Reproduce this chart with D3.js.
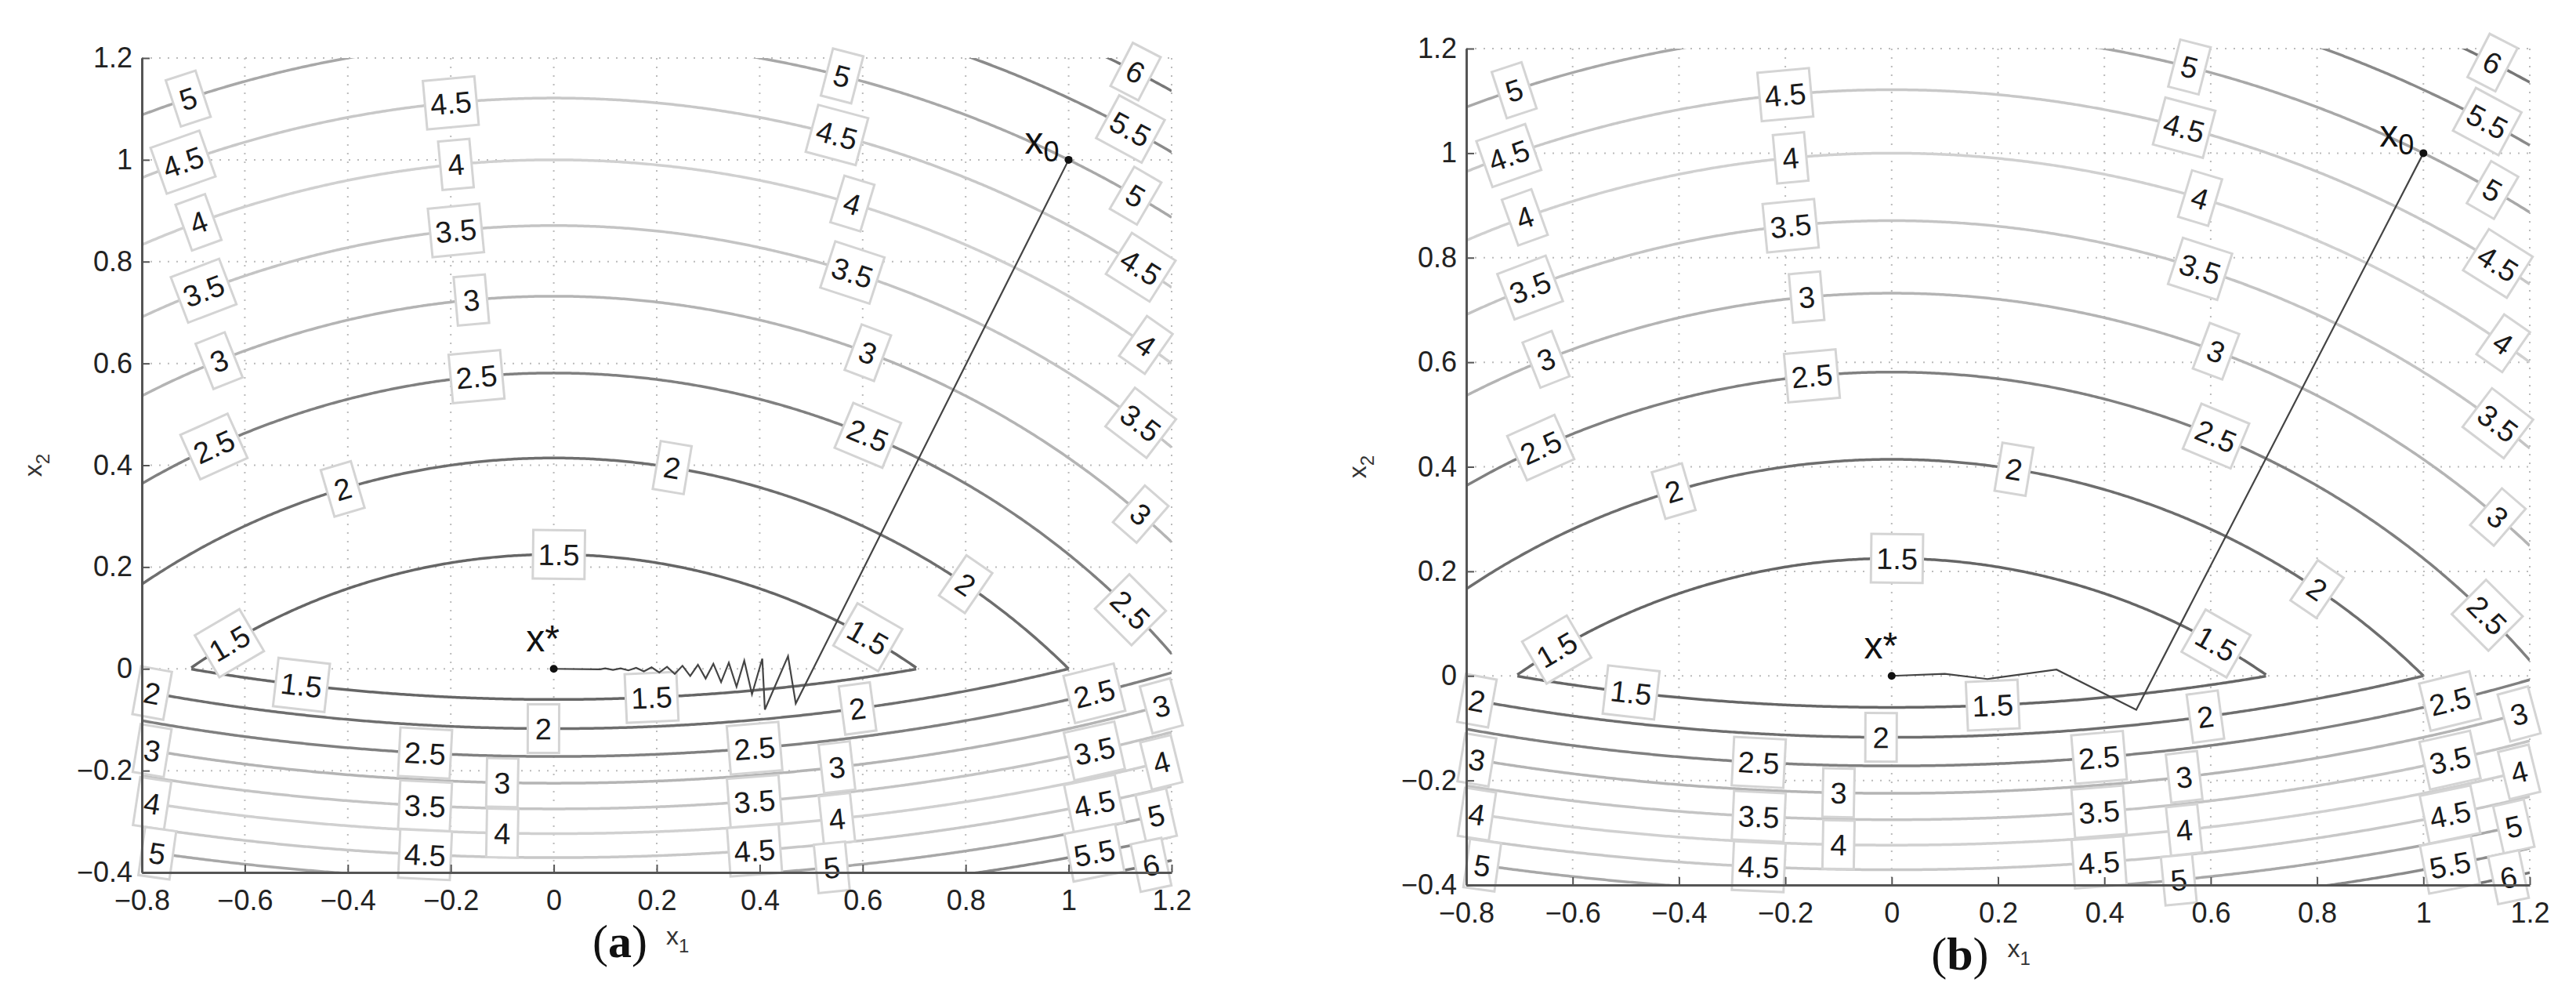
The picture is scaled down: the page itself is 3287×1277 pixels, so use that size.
<!DOCTYPE html>
<html><head><meta charset="utf-8">
<script src="https://cdn.jsdelivr.net/npm/d3@7/dist/d3.min.js"></script>
<style>body{margin:0;background:#fff}</style>
</head><body>
<svg id="c" width="3287" height="1277"></svg>
<script>
// contour levels and their line greys
const levels = [1.5, 2, 2.5, 3, 3.5, 4, 4.5, 5, 5.5, 6];
const levelColors = ["#666", "#6e6e6e", "#808080", "#b4b4b4", "#c4c4c4", "#d0d0d0", "#c8c8c8", "#a8a8a8", "#8a8a8a", "#777"];
// field parameters: upper half f = x1^2 + (x2+1)^2 ; lower half f = x1^2 + 1 + A t + B t^2, t=-x2
const lowerA = 8.08, lowerB = 3.66;
const xTicks = [-0.8, -0.6, -0.4, -0.2, 0, 0.2, 0.4, 0.6, 0.8, 1, 1.2];
const yTicks = [-0.4, -0.2, 0, 0.2, 0.4, 0.6, 0.8, 1, 1.2];
// label placements: [level, x1]
const upperLabels = [[5,-0.71],[4.5,-0.72],[4,-0.69],[3.5,-0.68],[3,-0.65],[2.5,-0.66],[2,-0.41],[1.5,-0.63],
  [4.5,-0.2],[4,-0.19],[3.5,-0.19],[3,-0.16],[2.5,-0.15],[2,0.23],[1.5,0.01],
  [5,0.56],[4.5,0.55],[4,0.58],[3.5,0.58],[3,0.61],[2.5,0.61],[2,0.8],[1.5,0.61],
  [6,1.13],[5.5,1.12],[5,1.13],[4.5,1.14],[4,1.15],[3.5,1.14],[3,1.14],[2.5,1.12]];
const lowerLabels = [[1.5,-0.49],[1.5,0.19],[2,-0.78],[2,-0.02],[2,0.59],[2.5,-0.25],[2.5,0.39],[2.5,1.05],
  [3,-0.78],[3,-0.1],[3,0.55],[3,1.18],[3.5,-0.25],[3.5,0.39],[3.5,1.05],[4,-0.78],[4,-0.1],[4,0.55],[4,1.18],
  [4.5,-0.25],[4.5,0.39],[4.5,1.05],[5,-0.77],[5,0.54],[5,1.17],[5.5,1.05],[6,1.16]];
// iterate paths
const pathA = [[1,1],[0.47,-0.068],[0.455,0.025],[0.41,-0.08],[0.405,0.02],[0.385,-0.05],[0.37,0.016],[0.355,-0.035],
  [0.34,0.012],[0.325,-0.026],[0.31,0.01],[0.295,-0.019],[0.28,0.008],[0.265,-0.014],[0.25,0.006],[0.235,-0.01],
  [0.22,0.004],[0.205,-0.007],[0.19,0.003],[0.175,-0.005],[0.16,0.002],[0.145,-0.003],[0.13,0.001],[0.115,-0.002],
  [0.1,0.001],[0.09,-0.001],[0,0]];
const pathB = [[1,1],[0.46,-0.065],[0.31,0.012],[0.18,-0.006],[0.1,0.004],[0,0]];

const svg = d3.select("#c");
const upperX2 = (c, x1) => { const r = c - x1*x1; return r < 0 ? NaN : Math.sqrt(r) - 1; };
const lowerX2 = (c, x1) => { const r = c - 1 - x1*x1; if (r < 0) return NaN;
  return -(-lowerA + Math.sqrt(lowerA*lowerA + 4*lowerB*r)) / (2*lowerB); };

function panel(L, R, T, B, path, cap) {
  const x = d3.scaleLinear().domain([-0.8, 1.2]).range([L, R]);
  const y = d3.scaleLinear().domain([-0.4, 1.2]).range([B, T]);
  const g = svg.append("g");
  g.selectAll(".gx").data(xTicks).join("line").attr("x1", d=>x(d)).attr("x2", d=>x(d)).attr("y1", T).attr("y2", B)
    .attr("stroke", "#bbb").attr("stroke-width", 2).attr("stroke-dasharray", "2,9");
  g.selectAll(".gy").data(yTicks).join("line").attr("y1", d=>y(d)).attr("y2", d=>y(d)).attr("x1", L).attr("x2", R)
    .attr("stroke", "#bbb").attr("stroke-width", 2).attr("stroke-dasharray", "2,9");
  g.append("clipPath").attr("id", "cp" + cap).append("rect").attr("x", L).attr("y", T).attr("width", R-L).attr("height", B-T);
  const cg = g.append("g").attr("clip-path", `url(#cp${cap})`);
  const xs = d3.range(-0.8, 1.2001, 0.004);
  const line = d3.line().defined(d => !isNaN(d[1])).x(d => x(d[0])).y(d => y(d[1]));
  levels.forEach((c, i) => {
    const up = xs.map(v => { const w = upperX2(c, v); return [v, (w >= 0 && w <= 1.25) ? w : NaN]; });
    const lo = xs.map(v => { const w = lowerX2(c, v); return [v, (w <= 0 && w >= -0.45) ? w : NaN]; });
    [up, lo].forEach(pts => cg.append("path").attr("d", line(pts)).attr("fill", "none")
      .attr("stroke", levelColors[i]).attr("stroke-width", 3.5));
  });
  function addLabel(c, x1, fn) {
    const w = fn(c, x1); if (isNaN(w)) return;
    const px = x(x1), py = y(w);
    const px2 = x(x1 + 0.01), py2 = y(fn(c, x1 + 0.01));
    let a = Math.atan2(py2 - py, px2 - px) * 180 / Math.PI;
    if (isNaN(a)) a = 0;
    if (a > 90) a -= 180; if (a < -90) a += 180;
    const t = String(c);
    const lg = g.append("g").attr("transform", `translate(${px},${py}) rotate(${a})`);
    const bw = t.length > 1 ? 66 : 40;
    lg.append("rect").attr("x", -bw/2).attr("y", -31).attr("width", bw).attr("height", 62)
      .attr("fill", "#fff").attr("stroke", "#d4d4d4").attr("stroke-width", 3);
    lg.append("text").attr("text-anchor", "middle").attr("dy", "0.36em").attr("font-family", "Liberation Sans, Arial")
      .attr("font-size", 38).attr("fill", "#1a1a1a").text(t);
  }
  upperLabels.forEach(([c, v]) => addLabel(c, v, upperX2));
  lowerLabels.forEach(([c, v]) => addLabel(c, v, lowerX2));
  g.append("path").attr("d", d3.line().x(d=>x(d[0])).y(d=>y(d[1]))(path)).attr("fill", "none")
    .attr("stroke", "#444").attr("stroke-width", 2.2);
  [path[0], path[path.length-1]].forEach(p => g.append("circle").attr("cx", x(p[0])).attr("cy", y(p[1])).attr("r", 5).attr("fill", "#111"));
  const x0 = g.append("text").attr("x", x(1) - 12).attr("y", y(1) - 8).attr("text-anchor", "end")
    .attr("font-family", "Liberation Sans, Arial").attr("font-size", 48).attr("fill", "#111");
  x0.append("tspan").text("x");
  x0.append("tspan").attr("font-size", 36).attr("dy", 10).text("0");
  g.append("text").attr("x", x(0) - 14).attr("y", y(0) - 22).attr("text-anchor", "middle")
    .attr("font-family", "Liberation Sans, Arial").attr("font-size", 48).attr("fill", "#111").text("x*");
  const ax = g.append("g").attr("transform", `translate(0,${B})`)
    .call(d3.axisBottom(x).tickValues(xTicks).tickFormat(d3.format("")).tickSizeInner(-10).tickSizeOuter(0).tickPadding(16));
  const ay = g.append("g").attr("transform", `translate(${L},0)`)
    .call(d3.axisLeft(y).tickValues(yTicks).tickFormat(d3.format("")).tickSizeInner(-10).tickSizeOuter(0).tickPadding(12));
  [ax, ay].forEach(a => {
    a.select(".domain").attr("stroke", "#555").attr("stroke-width", 3);
    a.selectAll(".tick line").attr("stroke", "#555").attr("stroke-width", 2);
    a.selectAll("text").attr("font-family", "Liberation Sans, Arial").attr("font-size", 36).attr("fill", "#222");
  });
  ax.selectAll("text").text(d => d < 0 ? "\u2212" + Math.abs(d) : d).attr("dy", "0.9em");
  ay.selectAll("text").text(d => d < 0 ? "\u2212" + Math.abs(d) : d);
  const xl = g.append("text").attr("x", x(0.2) + 12).attr("y", B + 92).attr("font-family", "Liberation Sans, Arial")
    .attr("font-size", 32).attr("fill", "#333");
  xl.append("tspan").text("x"); xl.append("tspan").attr("font-size", 24).attr("dy", 10).text("1");
  const yl = g.append("text").attr("transform", `translate(${L - 128},${y(0.4)}) rotate(-90)`).attr("text-anchor", "middle")
    .attr("font-family", "Liberation Sans, Arial").attr("font-size", 32).attr("fill", "#333");
  yl.append("tspan").text("x"); yl.append("tspan").attr("font-size", 24).attr("dy", 10).text("2");
  const ct = g.append("text").attr("x", x(0.2) - 12).attr("y", B + 108).attr("text-anchor", "end")
    .attr("font-family", "Liberation Serif, Times New Roman").attr("font-size", 60).attr("fill", "#111");
  ct.append("tspan").text("(");
  ct.append("tspan").attr("font-weight", "bold").text(cap);
  ct.append("tspan").text(")");
}
panel(181, 1495, 74, 1113, pathA, "a");
panel(1871, 3228, 62, 1129, pathB, "b");
</script>
</body></html>
